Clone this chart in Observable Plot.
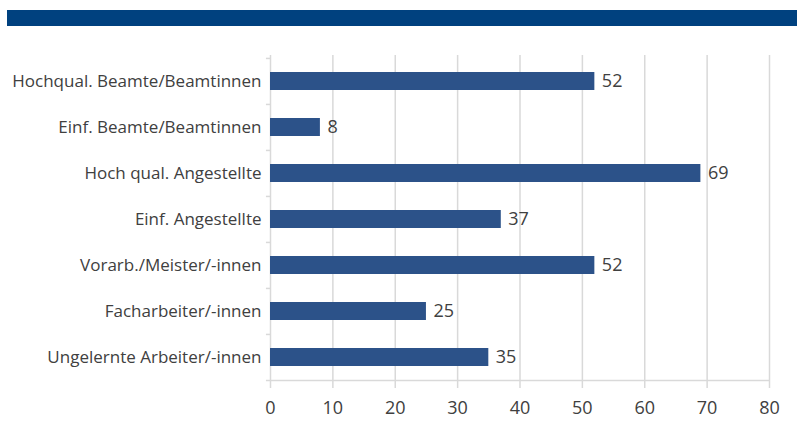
<!DOCTYPE html>
<html><head><meta charset="utf-8">
<script src="https://cdn.jsdelivr.net/npm/d3@7"></script>
<script src="https://cdn.jsdelivr.net/npm/@observablehq/plot@0.6"></script>
<style>
body{margin:0;background:#fff;font-family:"Open Sans",sans-serif;}
#wrap{position:relative;width:797px;height:421px;}
#banner{position:absolute;left:7px;right:0;top:10px;height:16px;background:#00417f;}
#chart{position:absolute;left:0;top:0;}
</style></head><body>
<div id="wrap"><div id="banner"></div><div id="chart"></div></div>
<script>
const categories = ["Hochqual. Beamte/Beamtinnen","Einf. Beamte/Beamtinnen","Hoch qual. Angestellte","Einf. Angestellte","Vorarb./Meister/-innen","Facharbeiter/-innen","Ungelernte Arbeiter/-innen"];
const values = [52, 8, 69, 37, 52, 25, 35];
const xTicks = [0,10,20,30,40,50,60,70,80];
const data = categories.map((c,i)=>({cat:c, v:values[i]}));
const H = 421, mt = 57, mb = 41;
const step = (H - mt - mb) / categories.length;
const chart = Plot.plot({
  width: 797, height: H,
  marginLeft: 270, marginRight: 28, marginTop: mt, marginBottom: mb,
  style: {fontFamily: '"Open Sans", sans-serif', fontSize: "17px", color: "#404040", background: "transparent", overflow: "visible"},
  x: {domain: [0, 80], ticks: xTicks, label: null},
  y: {domain: categories, paddingInner: 0.61, paddingOuter: 0.305, label: null},
  marks: [
    Plot.gridX(xTicks, {stroke: "#d9d9d9", strokeOpacity: 1, strokeWidth: 1.5, insetTop: -2}),
    Plot.axisX(xTicks, {tickSize: 8, stroke: "#d9d9d9", strokeOpacity: 1, strokeWidth: 1.5, tickPadding: 13, fontSize: 18, fill: "#404040"}),
    Plot.axisY({tickSize: 0, tickPadding: 9, fontSize: 17, fill: "#404040"}),
    Plot.ruleY(categories, {y: d => d, dy: -step/2, x1: -0.65, x2: 0, stroke: "#d9d9d9", strokeWidth: 1.5}),
    Plot.ruleY([categories[categories.length-1]], {y: d => d, dy: step/2, x1: -0.65, x2: 80, stroke: "#d9d9d9", strokeWidth: 1.5}),
    Plot.barX(data, {x: "v", y: "cat", fill: "#2c5289"}),
    Plot.text(data, {x: "v", y: "cat", text: d => String(d.v), textAnchor: "start", dx: 7, fontSize: 18, fill: "#404040"})
  ]
});
document.getElementById("chart").appendChild(chart);
</script></body></html>
